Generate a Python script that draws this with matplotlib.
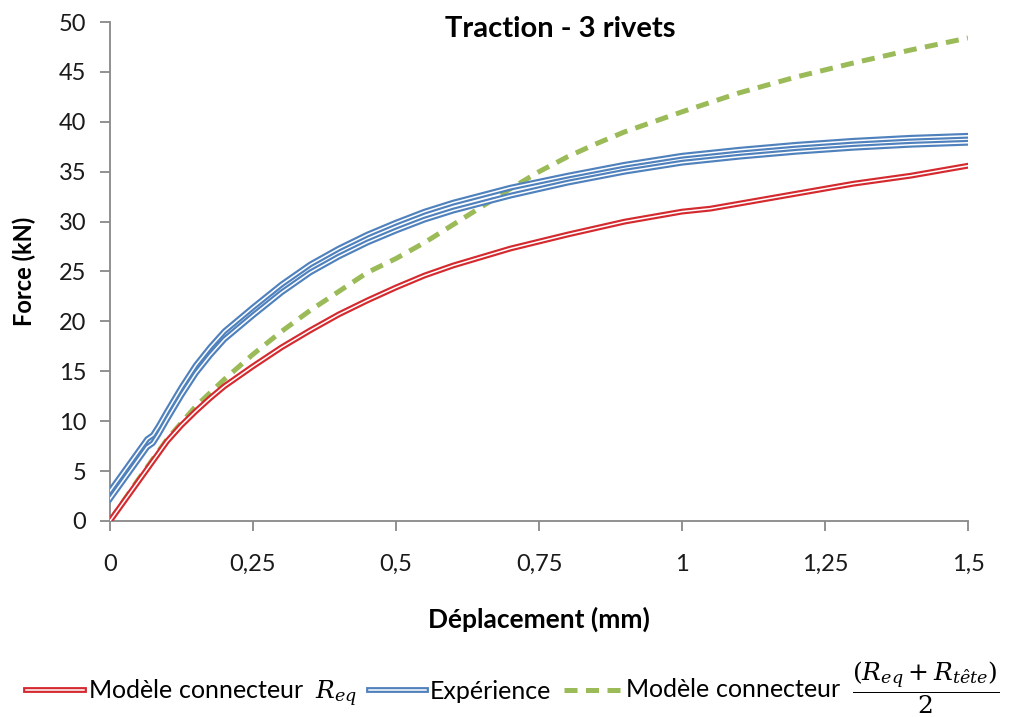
import matplotlib.pyplot as plt
from matplotlib.ticker import FuncFormatter

plt.rcParams['font.family'] = ['Lato', 'DejaVu Sans']
plt.rcParams['mathtext.fontset'] = 'dejavuserif'

# Modèle connecteur R_eq
x_red = [0, 0.025, 0.05, 0.075, 0.1, 0.125, 0.15, 0.175, 0.2, 0.25, 0.3, 0.35, 0.4, 0.45,
         0.5, 0.55, 0.6, 0.7, 0.8, 0.9, 1.0, 1.05, 1.1, 1.2, 1.3, 1.35, 1.4, 1.5]
y_red = [0, 2, 4, 6, 8, 9.6, 11, 12.3, 13.5, 15.5, 17.4, 19.1, 20.7, 22.1,
         23.4, 24.6, 25.6, 27.3, 28.7, 30.0, 31.0, 31.3, 31.8, 32.8, 33.8, 34.2, 34.6, 35.6]

# Expérience (two tests)
x_exp = [0, 0.025, 0.05, 0.065, 0.075, 0.085, 0.1, 0.125, 0.15, 0.175, 0.2, 0.25, 0.3, 0.35,
         0.4, 0.45, 0.5, 0.55, 0.6, 0.7, 0.8, 0.9, 1.0, 1.1, 1.2, 1.3, 1.4, 1.5]
y_exp1 = [3.0, 5.0, 7.0, 8.2, 8.6, 9.5, 11.0, 13.4, 15.6, 17.4, 19.0, 21.4, 23.7, 25.7,
          27.3, 28.7, 29.9, 31.0, 31.9, 33.4, 34.6, 35.7, 36.6, 37.2, 37.7, 38.1, 38.4, 38.6]
y_exp2 = [2.2, 4.2, 6.2, 7.4, 7.8, 8.7, 10.2, 12.6, 14.8, 16.6, 18.2, 20.6, 22.9, 24.9,
          26.5, 27.9, 29.1, 30.2, 31.1, 32.6, 33.9, 35.0, 35.9, 36.5, 37.0, 37.4, 37.7, 37.9]

# Modèle connecteur (R_eq + R_tête)/2
x_green = [0, 0.05, 0.1, 0.15, 0.2, 0.25, 0.3, 0.35, 0.4, 0.45, 0.5, 0.55, 0.6, 0.65, 0.7,
           0.75, 0.8, 0.85, 0.9, 0.95, 1.0, 1.1, 1.2, 1.3, 1.4, 1.5]
y_green = [0, 4.2, 8.2, 11.5, 14.2, 16.7, 19.0, 21.1, 23.0, 24.9, 26.3, 27.9, 29.7, 31.5, 33.3,
           35.0, 36.5, 37.8, 39.0, 40.0, 41.0, 42.9, 44.5, 45.9, 47.2, 48.4]

red = '#D42A2F'
blue = '#4F81BD'
green = '#9BBB59'

fig = plt.figure(figsize=(10.26, 7.17), dpi=100)
ax = fig.add_axes([0.1072, 0.2734, 0.8363, 0.6959])

g, = ax.plot(x_green, y_green, color=green, lw=3.6, dashes=(2.6, 1.7), zorder=2)
b_out = b_in = None
for y in (y_exp1, y_exp2):
    b_out, = ax.plot(x_exp, y, color=blue, lw=4.2, zorder=3, solid_joinstyle='round')
    b_in, = ax.plot(x_exp, y, color='white', lw=1.1, zorder=4, solid_joinstyle='round')
r_out, = ax.plot(x_red, y_red, color=red, lw=4.2, zorder=5, solid_joinstyle='round')
r_in, = ax.plot(x_red, y_red, color='white', lw=1.1, zorder=6, solid_joinstyle='round')

ax.set_xlim(0, 1.5)
ax.set_ylim(0, 50)
ax.set_xticks([0, 0.25, 0.5, 0.75, 1, 1.25, 1.5])
ax.set_yticks(range(0, 51, 5))
ax.xaxis.set_major_formatter(FuncFormatter(lambda v, p: ('%g' % v).replace('.', ',')))
for s in ('top', 'right'):
    ax.spines[s].set_visible(False)
for s in ('left', 'bottom'):
    ax.spines[s].set_color('#888888')
    ax.spines[s].set_linewidth(1.3)
ax.tick_params(colors='#888888', labelcolor='#1a1a1a', labelsize=17, length=7, width=1.3)
ax.tick_params(axis='x', pad=17)
ax.tick_params(axis='y', pad=10)
ax.set_xlabel('Déplacement (mm)', fontsize=19, fontweight='bold', va='center')
ax.set_ylabel('Force (kN)', fontsize=17, fontweight='bold', va='center')
ax.xaxis.set_label_coords(0.5, -0.198)
ax.yaxis.set_label_coords(-0.1, 0.5)

fig.text(0.546, 0.96, 'Traction - 3 rivets', ha='center', va='center',
         fontsize=21, fontweight='bold')

fig.legend([(r_out, r_in), (b_out, b_in), g],
           [r'Modèle connecteur  $R_{eq}$', 'Expérience',
            r'Modèle connecteur  $\dfrac{\left(R_{eq}+R_{t\hat{e}te}\right)}{2}$'],
           loc='center', bbox_to_anchor=(0.5, 0.04), ncol=3, frameon=False,
           fontsize=18, handlelength=2.3, handletextpad=0.15, columnspacing=0.5,
           borderpad=0.1)

fig.savefig('out.png', dpi=100)
